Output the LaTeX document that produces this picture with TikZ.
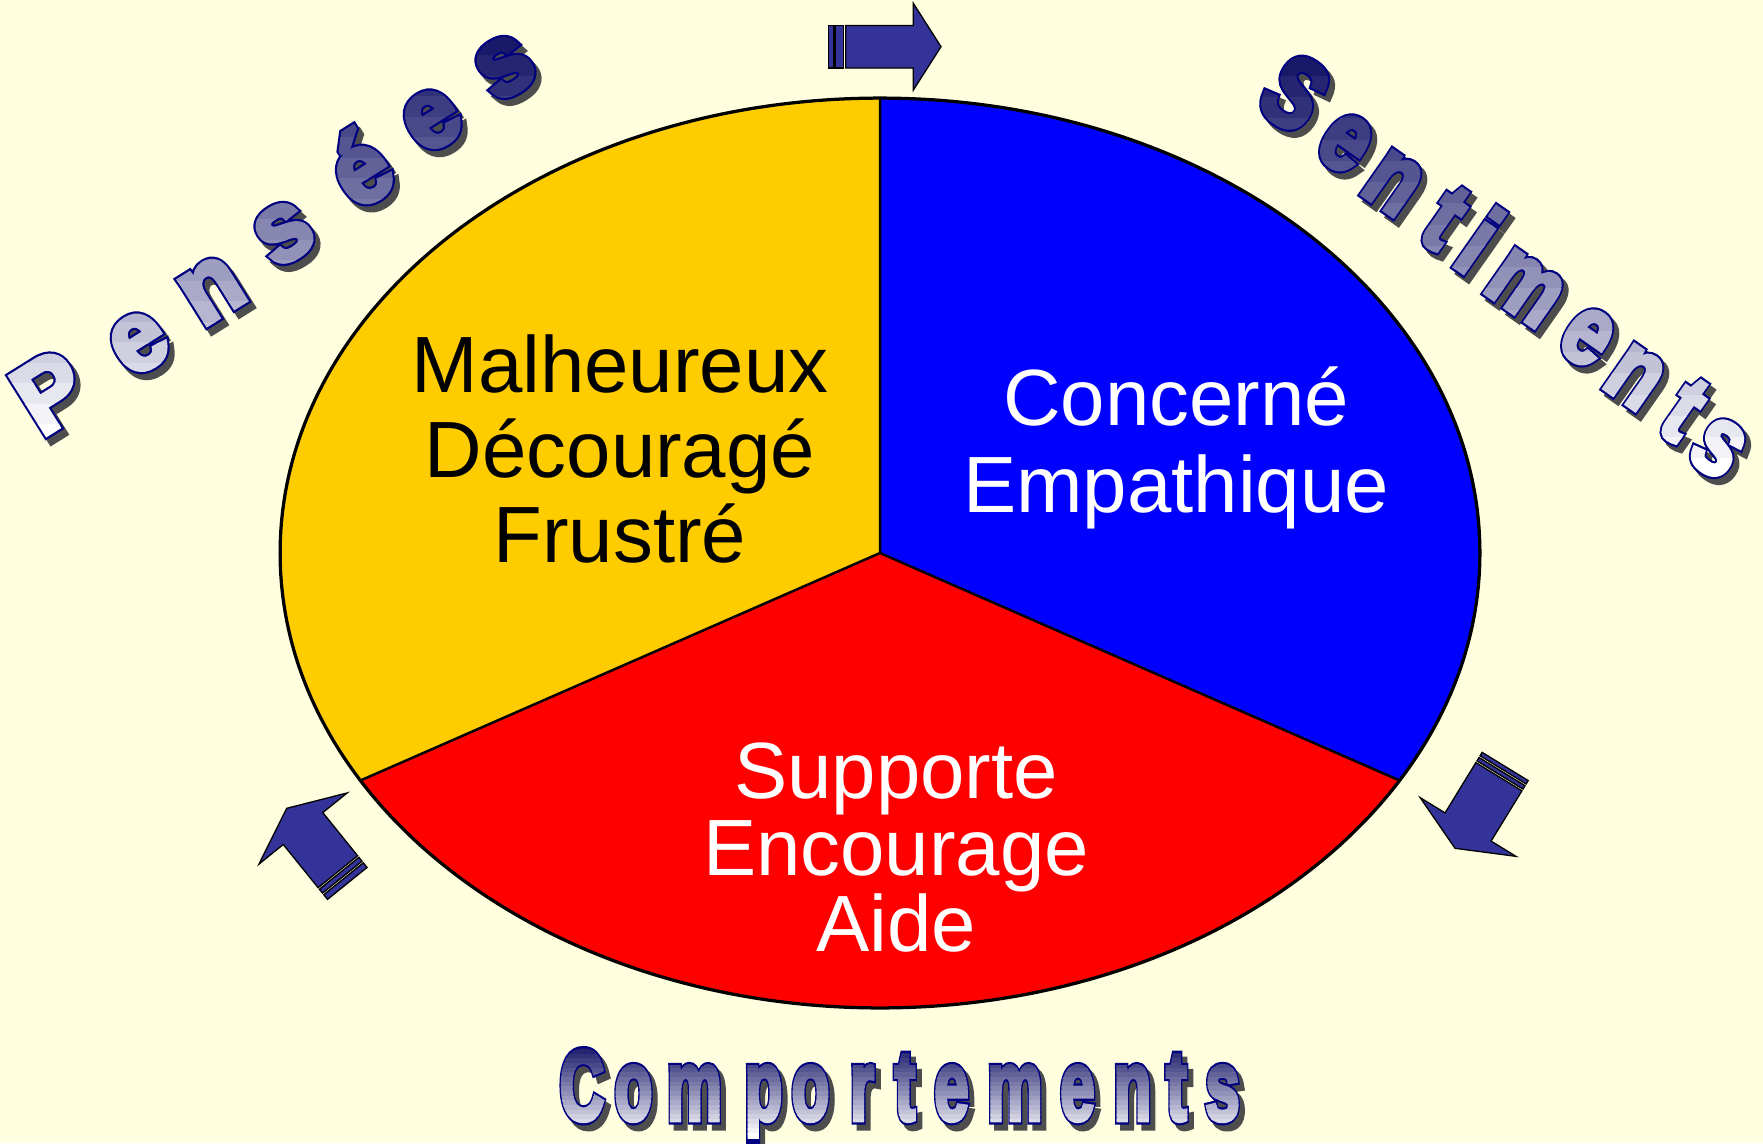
\documentclass[tikz,border=0pt]{standalone}
\usepackage{fontspec}
\setmainfont{Liberation Sans}
\newfontfamily\wafill{Liberation Sans Bold}[FakeBold=4.5]
\newfontfamily\waout{Liberation Sans Bold}[FakeBold=9]
\newcommand\wasize{\fontsize{56.7pt}{60pt}\selectfont}
\newcommand\lblsize{\fontsize{45.4pt}{48pt}\selectfont}
\definecolor{bgc}{RGB}{255,255,224}
\definecolor{secy}{RGB}{255,204,0}
\definecolor{secb}{RGB}{0,0,255}
\definecolor{secr}{RGB}{255,0,0}
\definecolor{arrc}{RGB}{51,51,153}
\definecolor{watop}{RGB}{25,25,105}
\definecolor{wabot}{RGB}{255,255,255}
\definecolor{navyo}{RGB}{0,0,128}
\definecolor{shadowc}{RGB}{77,77,77}
\tikzset{
  wa/.style={inner sep=0pt, outer sep=0pt},
  lbl/.style={inner sep=0pt, anchor=base, font=\lblsize},
  arr/.style={fill=arrc, draw=black, line width=0.026cm, line join=miter},
}
% words: #1 font, #2 colour
\newcommand\PenseesWord[2]{%
  \foreach \ch/\px/\py [count=\k] in {P/50/392, e/139/343, n/212/290, s/284/233, é/359/167, e/432/120, s/505/67}
    \node[wa, text=#2, font=#1, rotate=32, xscale=0.95] (pen\k) at (\px,\py) {\ch};
}
\newcommand\SentimentsWord[2]{%
  \foreach \ch/\px/\py [count=\k] in {S/1295/93, e/1345/143, n/1393/183, t/1445/218, i/1480/240, m/1525/288, e/1587/337, n/1635/377, t/1684/410, s/1718/448}
    \node[wa, text=#2, font=#1, rotate=-35, xscale=0.8] (sen\k) at (\px,\py) {\ch};
}
\newcommand\ComportWord[2]{%
  \foreach \ch/\px [count=\k] in {C/582, o/633.5, m/694.5, p/763.5, o/810.5, r/862, t/905, e/951.5, m/1015, e/1077.5, n/1132.5, t/1176.5, s/1222.5}
    \node[wa, anchor=base, text=#2, font=#1, xscale=0.62] (com\k) at (\px,1120) {\ch};
}
% gradient by horizontal bands: #1 word macro, #2 top y, #3 bottom y
\newcommand\Bands[3]{%
  \foreach \i in {0,...,19} {
    \pgfmathsetmacro\ya{#2+(#3-#2)*\i/20}
    \pgfmathsetmacro\yb{#2+(#3-#2)*(\i+1)/20+0.8}
    \pgfmathsetmacro\pc{100*\i/19}
    \begin{scope}
      \clip (0,\ya) rectangle (1763,\yb);
      \colorlet{bandc}{wabot!\pc!watop}
      #1{\wafill\wasize}{bandc}
    \end{scope}
  }%
}
\newcommand\WordArt[3]{%
  \begin{scope}[shift={(5,6)}]
    #1{\waout\wasize}{shadowc}
  \end{scope}
  #1{\waout\wasize}{navyo}
  \Bands{#1}{#2}{#3}
}
\begin{document}
\begin{tikzpicture}[x=0.02cm, y=-0.02cm]
  \fill[bgc] (0,0) rectangle (1763,1143);
  \useasboundingbox (0,0) rectangle (1763,1143);

  % pie
  \coordinate (O) at (880,553);
  \coordinate (T) at (880,98);
  \coordinate (L) at (360.4,780.5);
  \coordinate (R) at (1399.6,780.5);
  \fill[secy] (O) -- (T) arc[start angle=90, end angle=210, x radius=12cm, y radius=9.1cm] -- cycle;
  \fill[secr] (O) -- (L) arc[start angle=210, end angle=330, x radius=12cm, y radius=9.1cm] -- cycle;
  \fill[secb] (O) -- (R) arc[start angle=-30, end angle=90, x radius=12cm, y radius=9.1cm] -- cycle;
  \draw[line width=0.05cm] (O) -- (T) (O) -- (L) (O) -- (R);
  \draw[line width=0.065cm] (O) ellipse[x radius=12cm, y radius=9.1cm];

  % sector texts
  \node[lbl, text=black] (m1) at (620,392) {Malheureux};
  \node[lbl, text=black] (m2) at (620,477) {Découragé};
  \node[lbl, text=black] (m3) at (620,562) {Frustré};
  \node[lbl, text=white] (c1) at (1176,425) {Concerné};
  \node[lbl, text=white] (c2) at (1176,512) {Empathique};
  \node[lbl, text=white] (s1) at (896,798) {Supporte};
  \node[lbl, text=white] (s2) at (896,875) {Encourage};
  \node[lbl, text=white] (s3) at (896,951) {Aide};

  % arrows
  \begin{scope}[shift={(941,46.7)}]
    \draw[arr] (0,0) -- (-27.7,43.4) -- (-27.7,21.3) -- (-95.3,21.3) -- (-95.3,-21.3) -- (-27.7,-21.3) -- (-27.7,-43.4) -- cycle;
    \draw[arr] (-97.7,-21.3) rectangle (-106,21.3);
    \draw[arr] (-107.7,-21.3) rectangle (-112.7,21.3);
  \end{scope}
  \begin{scope}[shift={(1455,848.3)}, rotate=-121.5]
    \draw[arr] (0,0) -- (-25,56.2) -- (-25,27) -- (-84,27) -- (-84,-27) -- (-25,-27) -- (-25,-56.2) -- cycle;
    \draw[arr] (-86,-27) rectangle (-90,27);
    \draw[arr] (-92,-27) rectangle (-96,27);
  \end{scope}
  \begin{scope}[shift={(286.7,808.3)}, rotate=128.9]
    \draw[arr] (0,0) -- (-26,56.7) -- (-26,25.4) -- (-81.5,25.4) -- (-81.5,-25.4) -- (-26,-25.4) -- (-26,-56.7) -- cycle;
    \draw[arr] (-83.5,-25.4) rectangle (-88.5,25.4);
    \draw[arr] (-90.5,-25.4) rectangle (-96.5,25.4);
  \end{scope}

  % word art
  \WordArt{\PenseesWord}{35}{445}
  \WordArt{\SentimentsWord}{55}{480}
  \WordArt{\ComportWord}{1045}{1138}
\end{tikzpicture}
\end{document}
